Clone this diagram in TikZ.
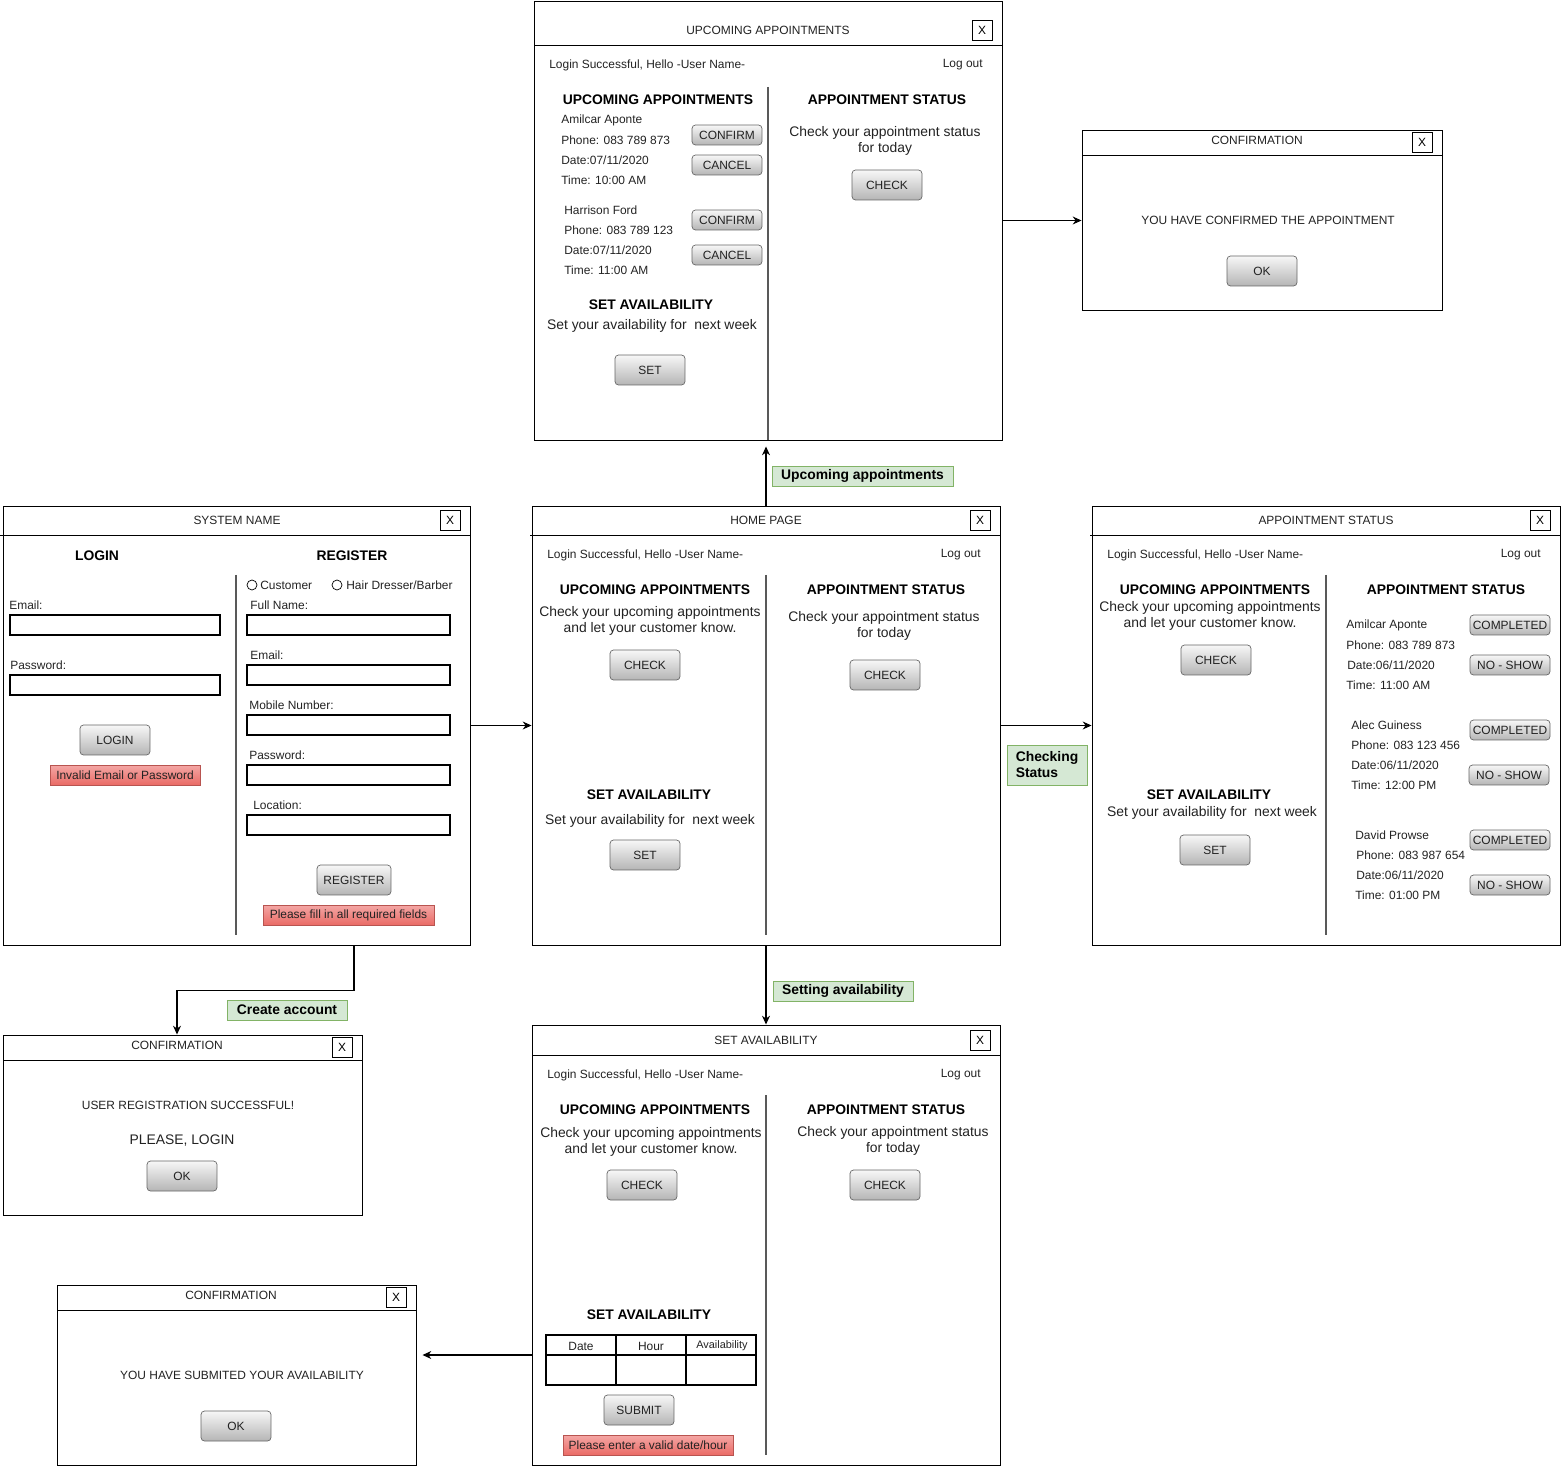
\documentclass[tikz,border=0pt]{standalone}
\usepackage{fontspec}
\setmainfont{Liberation Sans}
\usetikzlibrary{arrows.meta,fit,positioning}

\definecolor{btnline}{HTML}{666666}
\definecolor{btntop}{HTML}{F7F7F7}
\definecolor{btnbot}{HTML}{B5B5B5}
\definecolor{errtop}{HTML}{F4A7A5}
\definecolor{errbot}{HTML}{EA6B66}
\definecolor{errline}{HTML}{B85450}
\definecolor{notefill}{HTML}{D5E8D4}
\definecolor{noteline}{HTML}{82B366}
\definecolor{txtgray}{HTML}{222222}

\newcommand{\fsmall}{\fontsize{6.2}{7.4}\selectfont}
\newcommand{\fnorm}{\fontsize{6.8}{8.2}\selectfont}
\newcommand{\fhead}{\fontsize{7.4}{8.8}\selectfont}
\newcommand{\fbig}{\fontsize{7.9}{9.1}\selectfont}

\tikzset{
  window/.style={draw, line width=0.55pt, inner sep=0pt},
  bar/.style={line width=0.55pt},
  split/.style={draw=black!65, line width=0.8pt},
  closebox/.style={draw, line width=0.55pt, minimum size=0.4cm, inner sep=0pt, font=\fnorm},
  label/.style={inner sep=0pt, font=\fnorm, text=txtgray},
  heading/.style={inner sep=0pt, font=\fbig\bfseries},
  para/.style={inner sep=0pt, font=\fbig, align=center, text=txtgray},
  button/.style={draw=btnline, rounded corners=2pt, top color=btntop, bottom color=btnbot,
    minimum width=1.4cm, minimum height=0.6cm, inner sep=0pt, font=\fnorm, text=txtgray},
  smallbutton/.style={button, minimum height=0.4cm},
  field/.style={draw, line width=0.7pt, inner sep=0pt, minimum height=0.4cm},
  error/.style={draw=errline, top color=errtop, bottom color=errbot, inner sep=0pt,
    minimum height=0.4cm, font=\fnorm, text=txtgray},
  note/.style={draw=noteline, fill=notefill, inner sep=0pt, minimum height=0.4cm, font=\fbig\bfseries},
  radio/.style={draw, circle, inner sep=0pt, minimum size=0.2cm},
  arr/.style={-{Stealth[length=5pt,width=4.5pt]}, line width=0.6pt},
}

\begin{document}
\begin{tikzpicture}[x=0.02cm, y=-0.02cm]
	\useasboundingbox (0,0) rectangle (1563,1466);

	% upcoming appointments window
	\node[window, fit={(534,1) (1002,440)}] (upcoming) {};
	\draw[bar] (534,45) -- (1002,45);
	\node[label] (up_title) at (768,30) {UPCOMING APPOINTMENTS};
	\node[closebox] (up_close) at (982,30) {X};
	\node[label, anchor=west] (up_hello) at (549,65) {Login Successful, Hello -User Name-};
	\node[label, anchor=east] (up_logout) at (983,65) {Log out};
	\draw[split] (768,87) -- (768,440);
	\node[heading] (up_head_a) at (658,100) {UPCOMING APPOINTMENTS};
	\node[label, anchor=west] (up_name_a) at (561,120) {Amilcar Aponte};
	\node[label, anchor=west] (up_phone_a) at (561,140) {Phone: 083 789 873};
	\node[label, anchor=west] (up_date_a) at (561,160) {Date:07/11/2020};
	\node[label, anchor=west] (up_time_a) at (561,180) {Time: 10:00 AM};
	\node[smallbutton] (up_confirm_a) at (727,135) {CONFIRM};
	\node[smallbutton] (up_cancel_a) at (727,165) {CANCEL};
	\node[label, anchor=west] (up_name_b) at (564,210) {Harrison Ford};
	\node[label, anchor=west] (up_phone_b) at (564,230) {Phone: 083 789 123};
	\node[label, anchor=west] (up_date_b) at (564,250) {Date:07/11/2020};
	\node[label, anchor=west] (up_time_b) at (564,270) {Time: 11:00 AM};
	\node[smallbutton] (up_confirm_b) at (727,220) {CONFIRM};
	\node[smallbutton] (up_cancel_b) at (727,255) {CANCEL};
	\node[heading] (up_head_b) at (651,305) {SET AVAILABILITY};
	\node[para] (up_set_txt) at (652,326) {Set your availability for\ \ next week};
	\node[button] (up_set) at (650,370) {SET};
	\node[heading] (up_head_c) at (887,100) {APPOINTMENT STATUS};
	\node[para] (up_status_txt) at (885,141) {Check your appointment status\\for today};
	\node[button] (up_check) at (887,185) {CHECK};

	% confirmation of an appointment
	\node[window, fit={(1082,130) (1442,310)}] (confirm) {};
	\draw[bar] (1082,155) -- (1442,155);
	\node[label] (cf_title) at (1257,140) {CONFIRMATION};
	\node[closebox] (cf_close) at (1422,142) {X};
	\node[label] (cf_msg) at (1268,220) {YOU HAVE CONFIRMED THE APPOINTMENT};
	\node[button] (cf_ok) at (1262,271) {OK};

	% login / register window
	\node[window, fit={(3,506) (470,945)}] (sysname) {};
	\draw[bar] (0,535) -- (470,535);
	\node[label] (sn_title) at (237,520) {SYSTEM NAME};
	\node[closebox] (sn_close) at (450,520) {X};
	\node[heading] (sn_login) at (97,556) {LOGIN};
	\node[heading] (sn_register) at (352,556) {REGISTER};
	\draw[split] (236,575) -- (236,935);
	\node[label, anchor=west] (sn_email_lbl) at (9,605) {Email:};
	\node[field, minimum width=4.2cm] (sn_email) at (115,625) {};
	\node[label, anchor=west] (sn_pass_lbl) at (10,665) {Password:};
	\node[field, minimum width=4.2cm] (sn_pass) at (115,685) {};
	\node[button] (sn_login_btn) at (115,740) {LOGIN};
	\node[error, minimum width=3cm] (sn_login_err) at (125,775) {Invalid Email or Password};
	\node[radio] (sn_radio_a) at (252,585) {};
	\node[label, anchor=west] (sn_customer) at (260,585) {Customer};
	\node[radio] (sn_radio_b) at (337,585) {};
	\node[label, anchor=west] (sn_barber) at (346,585) {Hair Dresser/Barber};
	\node[label, anchor=west] (sn_fname_lbl) at (250,605) {Full Name:};
	\node[field, minimum width=4.06cm] (sn_fname) at (348.5,625) {};
	\node[label, anchor=west] (sn_remail_lbl) at (250,655) {Email:};
	\node[field, minimum width=4.06cm] (sn_remail) at (348.5,675) {};
	\node[label, anchor=west] (sn_mobile_lbl) at (249,705) {Mobile Number:};
	\node[field, minimum width=4.06cm] (sn_mobile) at (348.5,725) {};
	\node[label, anchor=west] (sn_rpass_lbl) at (249,755) {Password:};
	\node[field, minimum width=4.06cm] (sn_rpass) at (348.5,775) {};
	\node[label, anchor=west] (sn_loc_lbl) at (253,805) {Location:};
	\node[field, minimum width=4.06cm] (sn_loc) at (348.5,825) {};
	\node[button, minimum width=1.48cm] (sn_reg_btn) at (354,880) {REGISTER};
	\node[error, minimum width=3.42cm] (sn_reg_err) at (348.5,915) {Please fill in all required fields};

	% registration confirmation
	\node[window, fit={(3,1035) (362,1215)}] (regconf) {};
	\draw[bar] (3,1060) -- (362,1060);
	\node[label] (rc_title) at (177,1045) {CONFIRMATION};
	\node[closebox] (rc_close) at (342,1047) {X};
	\node[label] (rc_msg) at (188,1105) {USER REGISTRATION SUCCESSFUL!};
	\node[para] (rc_login) at (182,1141) {PLEASE, LOGIN};
	\node[button] (rc_ok) at (182,1176) {OK};

	% home page
	\node[window, fit={(532,506) (1000,945)}] (home) {};
	\draw[bar] (530,535) -- (1000,535);
	\node[label] (hp_title) at (766,520) {HOME PAGE};
	\node[closebox] (hp_close) at (980,520) {X};
	\node[label, anchor=west] (hp_hello) at (547,555) {Login Successful, Hello -User Name-};
	\node[label, anchor=east] (hp_logout) at (981,555) {Log out};
	\draw[split] (766,575) -- (766,935);
	\node[heading] (hp_head_a) at (655,590) {UPCOMING APPOINTMENTS};
	\node[para] (hp_up_txt) at (650,621) {Check your upcoming appointments\\and let your customer know.};
	\node[button] (hp_up_check) at (645,665) {CHECK};
	\node[heading] (hp_head_b) at (649,795) {SET AVAILABILITY};
	\node[para] (hp_set_txt) at (650,821) {Set your availability for\ \ next week};
	\node[button] (hp_set) at (645,855) {SET};
	\node[heading] (hp_head_c) at (886,590) {APPOINTMENT STATUS};
	\node[para] (hp_status_txt) at (884,626) {Check your appointment status\\for today};
	\node[button] (hp_status_check) at (885,675) {CHECK};

	% appointment status window
	\node[window, fit={(1092,506) (1560,945)}] (status) {};
	\draw[bar] (1090,535) -- (1560,535);
	\node[label] (st_title) at (1326,520) {APPOINTMENT STATUS};
	\node[closebox] (st_close) at (1540,520) {X};
	\node[label, anchor=west] (st_hello) at (1107,555) {Login Successful, Hello -User Name-};
	\node[label, anchor=east] (st_logout) at (1541,555) {Log out};
	\draw[split] (1326,575) -- (1326,935);
	\node[heading] (st_head_a) at (1215,590) {UPCOMING APPOINTMENTS};
	\node[para] (st_up_txt) at (1210,616) {Check your upcoming appointments\\and let your customer know.};
	\node[button] (st_up_check) at (1216,660) {CHECK};
	\node[heading] (st_head_b) at (1209,795) {SET AVAILABILITY};
	\node[para] (st_set_txt) at (1212,813) {Set your availability for\ \ next week};
	\node[button] (st_set) at (1215,850) {SET};
	\node[heading] (st_head_c) at (1446,590) {APPOINTMENT STATUS};
	\node[label, anchor=west] (st_name_a) at (1346,625) {Amilcar Aponte};
	\node[label, anchor=west] (st_phone_a) at (1346,645) {Phone: 083 789 873};
	\node[label, anchor=west] (st_date_a) at (1347,665) {Date:06/11/2020};
	\node[label, anchor=west] (st_time_a) at (1346,685) {Time: 11:00 AM};
	\node[smallbutton, minimum width=1.6cm] (st_done_a) at (1510,625) {COMPLETED};
	\node[smallbutton, minimum width=1.6cm] (st_noshow_a) at (1510,665) {NO - SHOW};
	\node[label, anchor=west] (st_name_b) at (1351,725) {Alec Guiness};
	\node[label, anchor=west] (st_phone_b) at (1351,745) {Phone: 083 123 456};
	\node[label, anchor=west] (st_date_b) at (1351,765) {Date:06/11/2020};
	\node[label, anchor=west] (st_time_b) at (1351,785) {Time: 12:00 PM};
	\node[smallbutton, minimum width=1.6cm] (st_done_b) at (1510,730) {COMPLETED};
	\node[smallbutton, minimum width=1.6cm] (st_noshow_b) at (1509,775) {NO - SHOW};
	\node[label, anchor=west] (st_name_c) at (1355,835) {David Prowse};
	\node[label, anchor=west] (st_phone_c) at (1356,855) {Phone: 083 987 654};
	\node[label, anchor=west] (st_date_c) at (1356,875) {Date:06/11/2020};
	\node[label, anchor=west] (st_time_c) at (1355,895) {Time: 01:00 PM};
	\node[smallbutton, minimum width=1.6cm] (st_done_c) at (1510,840) {COMPLETED};
	\node[smallbutton, minimum width=1.6cm] (st_noshow_c) at (1510,885) {NO - SHOW};

	% set availability window
	\node[window, fit={(532,1025) (1000,1465)}] (setav) {};
	\draw[bar] (532,1055) -- (1000,1055);
	\node[label] (sa_title) at (766,1040) {SET AVAILABILITY};
	\node[closebox] (sa_close) at (980,1040) {X};
	\node[label, anchor=west] (sa_hello) at (547,1075) {Login Successful, Hello -User Name-};
	\node[label, anchor=east] (sa_logout) at (981,1075) {Log out};
	\draw[split] (766,1095) -- (766,1455);
	\node[heading] (sa_head_a) at (655,1110) {UPCOMING APPOINTMENTS};
	\node[para] (sa_up_txt) at (651,1142) {Check your upcoming appointments\\and let your customer know.};
	\node[button] (sa_up_check) at (642,1185) {CHECK};
	\node[heading] (sa_head_c) at (886,1110) {APPOINTMENT STATUS};
	\node[para] (sa_status_txt) at (893,1141) {Check your appointment status\\for today};
	\node[button] (sa_status_check) at (885,1185) {CHECK};
	\node[heading] (sa_head_b) at (649,1315) {SET AVAILABILITY};
	% table
	\draw[line width=0.7pt] (546,1335) rectangle (756,1385);
	\draw[line width=0.7pt] (546,1355) -- (756,1355);
	\draw[line width=0.7pt] (616,1335) -- (616,1385);
	\draw[line width=0.7pt] (686,1335) -- (686,1385);
	\node[label] (sa_col_date) at (581,1346) {Date};
	\node[label] (sa_col_hour) at (651,1346) {Hour};
	\node[label, font=\fsmall] (sa_col_avail) at (722,1346) {Availability};
	\node[button] (sa_submit) at (639,1410) {SUBMIT};
	\node[error, minimum width=3.4cm] (sa_err) at (648,1445) {Please enter a valid date/hour};

	% submitted availability confirmation
	\node[window, fit={(57,1285) (416,1465)}] (subconf) {};
	\draw[bar] (57,1310) -- (416,1310);
	\node[label] (sc_title) at (231,1295) {CONFIRMATION};
	\node[closebox] (sc_close) at (396,1297) {X};
	\node[label] (sc_msg) at (242,1375) {YOU HAVE SUBMITED YOUR AVAILABILITY};
	\node[button] (sc_ok) at (236,1426) {OK};

	% flow labels
	\node[note, minimum width=3.62cm] (note_up) at (862.5,476) {Upcoming appointments};
	\node[note, minimum width=2.8cm] (note_set) at (843,991) {Setting availability};
	\node[note, minimum width=2.4cm] (note_create) at (287,1010) {Create account};
	\node[note, minimum width=1.6cm, minimum height=0.8cm, align=left] (note_status) at (1047,765) {Checking\\Status};

	% connectors
	\coordinate (avail_out) at (532,1355);
	\draw[arr] (sysname) -- (home);
	\draw[arr] (home) -- (status);
	\draw[arr, shorten >=0.12cm] (home.north) -- (home.north |- upcoming.south);
	\draw[arr] (home) -- (setav);
	\draw[arr] (upcoming.east) -- (upcoming.east -| confirm.west);
	\draw[arr] (sn_reg_btn |- sysname.south) -- ++(0,45) -| (rc_title |- regconf.north);
	\draw[arr, shorten >=0.12cm] (avail_out) -- (avail_out -| subconf.east);
\end{tikzpicture}
\end{document}
